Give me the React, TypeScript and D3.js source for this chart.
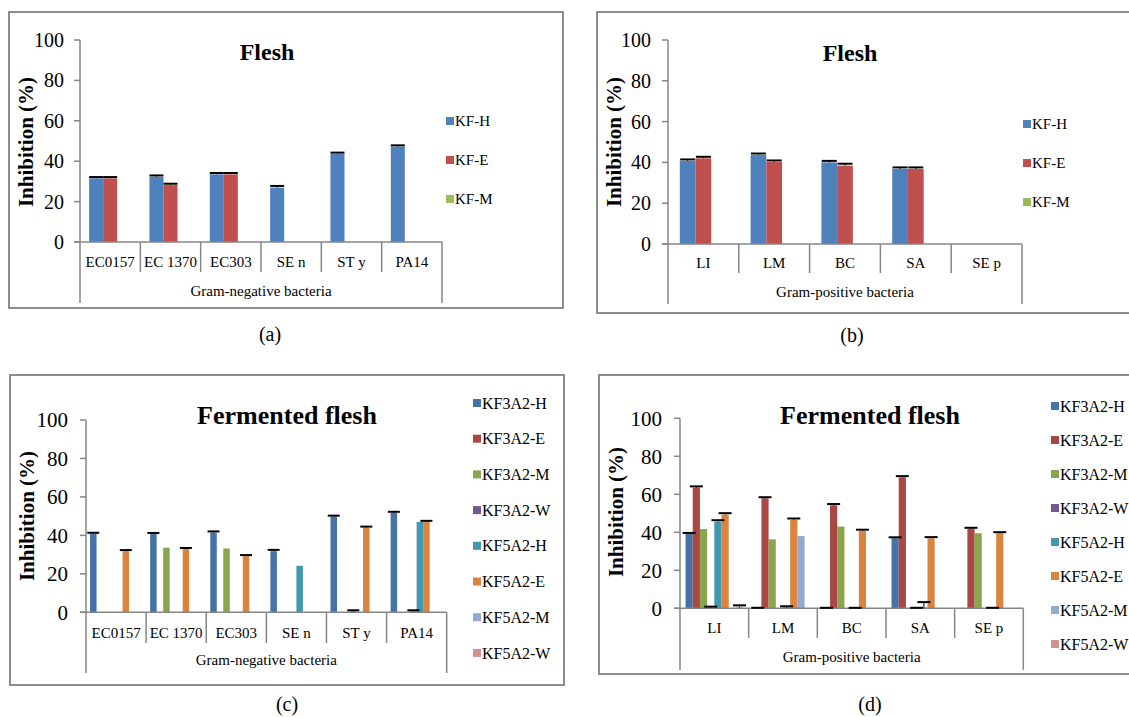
import { useEffect } from 'react';
import * as d3 from 'd3';

const FONT = "'Liberation Serif', 'Times New Roman', 'DejaVu Serif', serif";

// ---- data ----
const negCategories = ['EC0157', 'EC 1370', 'EC303', 'SE n', 'ST y', 'PA14'];
const posCategories = ['LI', 'LM', 'BC', 'SA', 'SE p'];

const fleshSeries = ['KF-H', 'KF-E', 'KF-M'];
const fermSeries = ['KF3A2-H', 'KF3A2-E', 'KF3A2-M', 'KF3A2-W', 'KF5A2-H', 'KF5A2-E', 'KF5A2-M', 'KF5A2-W'];

const fleshColors = ['#4F81BD', '#C0504D', '#9BBB59'];
const fermColors = ['#4572A7', '#AA4643', '#89A54E', '#71588F', '#4198AF', '#DB843D', '#93A9CF', '#D19392'];

// (a) flesh, gram-negative
const aKFH = [31.5, 32.3, 33.5, 26.9, 43.6, 47.2];
const aKFE = [31.5, 28.2, 33.5, 0, 0, 0];
const aKFM = [0, 0, 0, 0, 0, 0];
const aErrH = [0.4, 0.4, 0.4, 0.6, 0.4, 0.4];
const aErrE = [0.4, 0.4, 0.4, null, null, null];
const aErrM = [null, null, null, null, null, null];

// (b) flesh, gram-positive
const bKFH = [40.7, 43.6, 40.0, 36.8, 0];
const bKFE = [42.0, 40.2, 38.4, 36.8, 0];
const bKFM = [0, 0, 0, 0, 0];
const bErrH = [0.5, 0.5, 0.5, 0.5, null];
const bErrE = [0.5, 0.5, 0.7, 0.5, null];
const bErrM = [null, null, null, null, null];

// (c) fermented flesh, gram-negative
const c3H = [40.8, 40.7, 41.4, 31.8, 49.7, 51.7];
const c3E = [0, 0, 0, 0, 0, 0];
const c3M = [0, 33.6, 33.2, 0, 0, 0];
const c3W = [0, 0, 0, 0, 0.4, 0.4];
const c5H = [0, 0, 0, 24.2, 0, 47.0];
const c5E = [31.8, 32.9, 29.2, 0, 44.0, 47.0];
const c5M = [0, 0, 0, 0, 0, 0];
const c5W = [0, 0, 0, 0, 0, 0];
const cErr3H = [0.3, 0.3, 0.4, 0.4, 0.3, 0.3];
const cErr3W = [null, null, null, null, 0.4, 0.4];
const cErr5E = [0.3, 0.3, 0.3, null, 0.3, 0.3];
const cNone = [null, null, null, null, null, null];

// (d) fermented flesh, gram-positive
const d3H = [39.1, 0, 0, 36.8, 0];
const d3E = [63.5, 57.9, 54.2, 68.9, 41.7];
const d3M = [41.7, 36.3, 43.0, 0, 39.5];
const d3W = [0.3, 0, 0, 0, 0];
const d5H = [45.6, 0.4, 0, 0.5, 0];
const d5E = [49.3, 46.5, 40.7, 36.8, 39.5];
const d5M = [0, 38.0, 0, 0, 0];
const d5W = [0.5, 0, 0, 0, 0];
const dErr3H = [0.3, 0, 0, 0.3, null];
const dErr3E = [0.4, 0.3, 0.4, 0.4, 0.4];
const dErr3W = [0.3, null, null, 0, null];
const dErr5H = [0.5, 0.4, 0, 2.5, 0];
const dErr5E = [0.5, 0.5, 0.4, 0.4, 0.3];
const dErr5W = [0.8, null, null, null, null];
const dNone = [null, null, null, null, null];

const yTicks = [0, 20, 40, 60, 80, 100];

interface PanelProps {
  frame: [number, number, number, number];
  x0: number; x1: number; yTop: number; yBase: number;
  tickBottom: number; groupBottom: number;
  categories: string[]; series: string[]; colors: string[];
  values: number[][]; errors: (number | null)[][];
  outerPad: number; capW: number;
  title: string; titleX: number; titleY: number; titleSize: number;
  group: string; catY: number; groupY: number; catSize: number;
  tickSize: number; tickEnd: number;
  ylabX: number; ylabY: number;
  legX: number; legY: number; legStep: number; legSize: number;
  caption: string; capX: number; capY: number;
}

function Panel(p: PanelProps) {
  const x = d3.scaleBand<string>().domain(p.categories).range([p.x0, p.x1]).padding(0);
  const xs = d3.scaleBand<string>().domain(p.series).range([0, x.bandwidth()])
    .paddingInner(0).paddingOuter(p.outerPad);
  const y = d3.scaleLinear().domain([0, 100]).range([p.yBase, p.yTop]);
  const axisCol = '#868686';
  const [fx, fy, fw, fh] = p.frame;
  const txt = (size: number, bold = false) => ({ fontFamily: FONT, fontSize: size, fontWeight: bold ? 700 : 400 });

  return (
    <g>
      <rect x={fx} y={fy} width={fw} height={fh} fill="#fff" stroke="#8c8c8c" strokeWidth={2} />
      {/* bars */}
      {p.categories.map((c, ci) =>
        p.series.map((s, si) => {
          const v = p.values[si][ci];
          const bx = (x(c) as number) + (xs(s) as number);
          return v > 0 ? (
            <rect key={c + s} x={bx} y={y(v)} width={xs.bandwidth()} height={y(0) - y(v)}
              fill={p.colors[si]} />
          ) : null;
        })
      )}
      {/* y axis */}
      <line x1={p.x0} x2={p.x0} y1={p.yTop} y2={p.groupBottom} stroke={axisCol} strokeWidth={1.5} />
      {yTicks.map(t => (
        <g key={t}>
          <line x1={p.x0 - 6} x2={p.x0} y1={y(t)} y2={y(t)} stroke={axisCol} strokeWidth={1.5} />
          <text x={p.tickEnd} y={y(t)} dy="0.35em" textAnchor="end" style={txt(p.tickSize)}
            fill="#000">{t}</text>
        </g>
      ))}
      {/* category axis */}
      <line x1={p.x0 - 6} x2={p.x1} y1={p.yBase} y2={p.yBase} stroke={axisCol} strokeWidth={1.5} />
      {p.categories.map((c, ci) => (
        <line key={c} x1={(x(c) as number) + x.bandwidth()} x2={(x(c) as number) + x.bandwidth()}
          y1={p.yBase} y2={ci === p.categories.length - 1 ? p.groupBottom : p.tickBottom}
          stroke={axisCol} strokeWidth={1.5} />
      ))}
      {p.categories.map(c => (
        <text key={c} x={(x(c) as number) + x.bandwidth() / 2} y={p.catY} textAnchor="middle"
          style={txt(p.catSize)}>{c}</text>
      ))}
      <text x={(p.x0 + p.x1) / 2} y={p.groupY} textAnchor="middle" style={txt(p.catSize)}>{p.group}</text>
      {/* error bars */}
      {p.categories.map((c, ci) =>
        p.series.map((s, si) => {
          const e = p.errors[si][ci];
          if (e === null || e === undefined) return null;
          const v = p.values[si][ci];
          const cx = (x(c) as number) + (xs(s) as number) + xs.bandwidth() / 2;
          return (
            <g key={'e' + c + s}>
              <line x1={cx} x2={cx} y1={y(v)} y2={y(v + e)} stroke="#000" strokeWidth={1} />
              <line x1={cx - p.capW / 2} x2={cx + p.capW / 2} y1={y(v + e) - 0.5} y2={y(v + e) - 0.5}
                stroke="#000" strokeWidth={2} />
            </g>
          );
        })
      )}
      {/* title */}
      <text x={p.titleX} y={p.titleY} textAnchor="middle" style={txt(p.titleSize, true)}>{p.title}</text>
      {/* y label */}
      <text transform={`translate(${p.ylabX},${p.ylabY}) rotate(-90)`} textAnchor="middle" dy="0.35em"
        style={txt(21, true)}>Inhibition (%)</text>
      {/* legend */}
      {p.series.map((s, si) => (
        <g key={s} transform={`translate(${p.legX},${p.legY + si * p.legStep})`}>
          <rect x={0} y={-4} width={8} height={8} fill={p.colors[si]} />
          <text x={9} y={0} dy="0.35em" style={txt(p.legSize)}>{s}</text>
        </g>
      ))}
      <text x={p.capX} y={p.capY} textAnchor="middle" style={txt(20)}>{p.caption}</text>
    </g>
  );
}

export default function App() {
  useEffect(() => { document.body.style.margin = '0'; }, []);
  return (
    <svg width={1129} height={717} style={{ display: 'block', background: '#fff' }}>
      <Panel frame={[9, 12, 554, 296]} x0={80} x1={442} yTop={40} yBase={242}
        tickBottom={272} groupBottom={303}
        categories={negCategories} series={fleshSeries} colors={fleshColors}
        values={[aKFH, aKFE, aKFM]} errors={[aErrH, aErrE, aErrM]}
        outerPad={0.65} capW={14}
        title="Flesh" titleX={267} titleY={60} titleSize={24}
        group="Gram-negative bacteria" catY={267} groupY={296} catSize={15}
        tickSize={20} tickEnd={64} ylabX={26} ylabY={142}
        legX={446} legY={121} legStep={39} legSize={15}
        caption="(a)" capX={270} capY={341} />
      <Panel frame={[597, 12, 540, 301]} x0={668} x1={1022} yTop={40} yBase={244}
        tickBottom={273} groupBottom={304}
        categories={posCategories} series={fleshSeries} colors={fleshColors}
        values={[bKFH, bKFE, bKFM]} errors={[bErrH, bErrE, bErrM]}
        outerPad={0.75} capW={15}
        title="Flesh" titleX={850} titleY={61} titleSize={24}
        group="Gram-positive bacteria" catY={268} groupY={297} catSize={15}
        tickSize={20} tickEnd={651} ylabX={614} ylabY={142}
        legX={1023} legY={124} legStep={39} legSize={15}
        caption="(b)" capX={852} capY={342} />
      <Panel frame={[10, 375, 554, 310]} x0={86} x1={446.7} yTop={420} yBase={612.3}
        tickBottom={643} groupBottom={673}
        categories={negCategories} series={fermSeries} colors={fermColors}
        values={[c3H, c3E, c3M, c3W, c5H, c5E, c5M, c5W]}
        errors={[cErr3H, cNone, cNone, cErr3W, cNone, cErr5E, cNone, cNone]}
        outerPad={0.62} capW={12}
        title="Fermented flesh" titleX={287} titleY={424} titleSize={26}
        group="Gram-negative bacteria" catY={638} groupY={665} catSize={15}
        tickSize={21} tickEnd={68} ylabX={27} ylabY={516}
        legX={473} legY={403} legStep={35.7} legSize={16}
        caption="(c)" capX={287} capY={711} />
      <Panel frame={[599, 375, 540, 299]} x0={680} x1={1023.3} yTop={418.3} yBase={608.3}
        tickBottom={638} groupBottom={670}
        categories={posCategories} series={fermSeries} colors={fermColors}
        values={[d3H, d3E, d3M, d3W, d5H, d5E, d5M, d5W]}
        errors={[dErr3H, dErr3E, dNone, dErr3W, dErr5H, dErr5E, dNone, dErr5W]}
        outerPad={0.77} capW={13}
        title="Fermented flesh" titleX={870} titleY={424} titleSize={26}
        group="Gram-positive bacteria" catY={633} groupY={662} catSize={15}
        tickSize={21} tickEnd={662} ylabX={616} ylabY={512}
        legX={1051} legY={406} legStep={34} legSize={16}
        caption="(d)" capX={870} capY={711} />
    </svg>
  );
}
